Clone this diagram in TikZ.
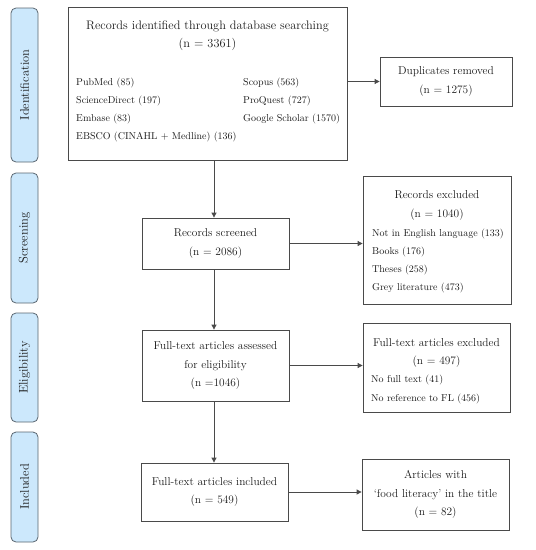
\documentclass[tikz,border=0pt]{standalone}
\usetikzlibrary{arrows.meta}
\definecolor{phasefill}{HTML}{CCE8FC}
\definecolor{phaseline}{HTML}{5A6670}
\definecolor{boxline}{HTML}{4A4A4A}
\definecolor{txt}{HTML}{1A1A1A}
\begin{document}
\begin{tikzpicture}[x=1pt,y=-1pt,
  phase/.style={draw=phaseline, line width=0.8pt, fill=phasefill, rounded corners=5pt, rotate=90, minimum height=27pt, inner sep=0pt, font=\fontsize{12.5}{14}\selectfont, text=txt},
  box/.style={draw=boxline, line width=0.8pt, inner sep=0pt, align=center, font=\fontsize{11.4}{18.5}\selectfont, text=txt},
  lst/.style={anchor=base west, inner sep=0pt, font=\fontsize{10}{12}\selectfont, text=txt},
  ttl/.style={anchor=base, inner sep=0pt, font=\fontsize{11.4}{13}\selectfont, text=txt},
  bigttl/.style={anchor=base, inner sep=0pt, font=\fontsize{12.3}{14}\selectfont, text=txt},
  conn/.style={draw=boxline, line width=0.8pt, -{Triangle[length=5pt,width=5pt]}}]
\useasboundingbox (0,0) rectangle (536,550);
% phases
\node[phase, minimum width=154pt] (pid) at (24.5,85) {Identification};
\node[phase, minimum width=130pt] (psc) at (24.5,238) {Screening};
\node[phase, minimum width=109pt] (pel) at (24.5,367.5) {Eligibility};
\node[phase, minimum width=110pt] (pin) at (24.5,487) {Included};
% boxes
\node[box, minimum width=279pt, minimum height=153pt] (main) at (207.5,83.5) {};
\node[bigttl] (m1) at (207.5,29) {Records identified through database searching};
\node[bigttl] (m2) at (207.5,47) {(n = 3361)};
\node[lst] (l1) at (76,85) {PubMed (85)};
\node[lst] (l2) at (76,103) {ScienceDirect (197)};
\node[lst] (l3) at (76,121) {Embase (83)};
\node[lst] (l4) at (76,139) {EBSCO (CINAHL + Medline) (136)};
\node[lst] (r1) at (243,85) {Scopus (563)};
\node[lst] (r2) at (243,103) {ProQuest (727)};
\node[lst] (r3) at (243,121) {Google Scholar (1570)};

\node[box, minimum width=132pt, minimum height=49pt] (dup) at (446,81.5) {Duplicates removed\\(n = 1275)};

\node[box, minimum width=147pt, minimum height=51pt] (scr) at (215.5,243.5) {Records screened\\(n = 2086)};

\node[box, minimum width=148pt, minimum height=128pt] (exc) at (437,240) {};
\node[ttl] (e1) at (437,198) {Records excluded};
\node[ttl] (e2) at (437,217) {(n = 1040)};
\node[lst] (e3) at (372,236) {Not in English language (133)};
\node[lst] (e4) at (372,254) {Books (176)};
\node[lst] (e5) at (372,272) {Theses (258)};
\node[lst] (e6) at (372,290) {Grey literature (473)};

\node[box, minimum width=147pt, minimum height=71pt] (fta) at (215.5,365.5) {Full-text articles assessed\\for eligibility\\(n =1046)};

\node[box, minimum width=147pt, minimum height=89pt] (fte) at (436.5,367.5) {};
\node[ttl] (f1) at (436.5,346) {Full-text articles excluded};
\node[ttl] (f2) at (436.5,364) {(n = 497)};
\node[lst] (f3) at (371,382) {No full text (41)};
\node[lst] (f4) at (371,401) {No reference to FL (456)};

\node[box, minimum width=147pt, minimum height=58pt] (fti) at (214.5,492) {Full-text articles included\\(n = 549)};

\node[box, minimum width=147pt, minimum height=71pt] (art) at (435.5,494.5) {Articles with\\`food literacy' in the title\\(n = 82)};

% connectors
\coordinate (v1) at (214,160);
\draw[conn] (main.south -| v1) -- (scr.north -| v1);
\draw[conn] (scr.south -| v1) -- (fta.north -| v1);
\draw[conn] (fta.south -| v1) -- (fti.north -| v1);
\draw[conn] (main.east |- dup.west) -- (dup.west);
\draw[conn] (scr.east) -- (scr.east -| exc.west);
\draw[conn] (fta.east) -- (fta.east -| fte.west);
\draw[conn] (fti.east) -- (fti.east -| art.west);
\end{tikzpicture}
\end{document}
